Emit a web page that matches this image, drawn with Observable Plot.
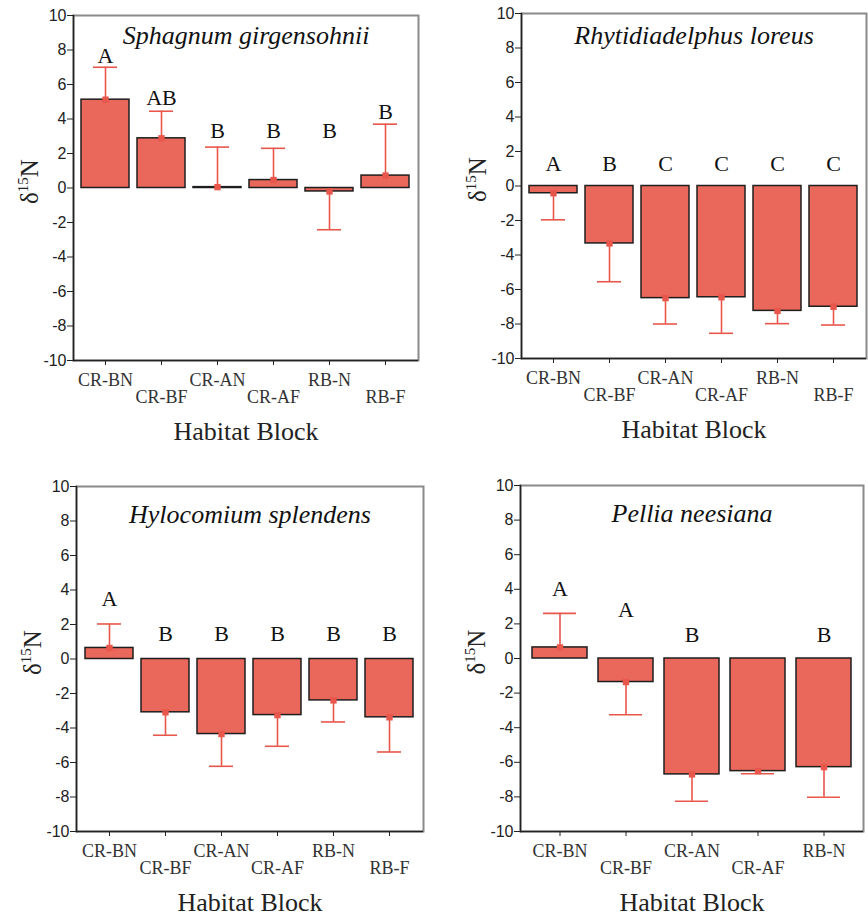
<!DOCTYPE html>
<html><head><meta charset="utf-8">
<script src="https://cdn.jsdelivr.net/npm/d3@7"></script>
<script src="https://cdn.jsdelivr.net/npm/@observablehq/plot@0.6"></script>
<style>
body{margin:0;background:#fff;}
#wrap{position:relative;width:868px;height:916px;background:#fff;}
.panel{position:absolute;width:434px;height:458px;}
</style></head><body><div id="wrap"></div>
<script>
// ---- data ----
const blocks6 = ["CR-BN","CR-BF","CR-AN","CR-AF","RB-N","RB-F"];
const blocks5 = ["CR-BN","CR-BF","CR-AN","CR-AF","RB-N"];
const yTicks = [10, 8, 6, 4, 2, 0, -2, -4, -6, -8, -10];

const sphagnumTitle = "Sphagnum girgensohnii";
const sphagnumMean = [5.12, 2.88, 0.05, 0.46, -0.2, 0.72];
const sphagnumErr  = [7.0, 4.45, 2.37, 2.3, -2.42, 3.7];
const sphagnumLetters = ["A", "AB", "B", "B", "B", "B"];
const sphagnumLetterY = [7.65, 5.2, 3.3, 3.3, 3.3, 4.4];

const rhytiTitle = "Rhytidiadelphus loreus";
const rhytiMean = [-0.42, -3.33, -6.5, -6.45, -7.24, -7.0];
const rhytiErr  = [-1.96, -5.55, -8.0, -8.54, -7.98, -8.06];
const rhytiLetters = ["A", "B", "C", "C", "C", "C"];
const rhytiLetterY = [1.3, 1.3, 1.3, 1.3, 1.3, 1.3];

const hyloTitle = "Hylocomium splendens";
const hyloMean = [0.64, -3.09, -4.35, -3.25, -2.4, -3.38];
const hyloErr  = [2.03, -4.42, -6.22, -5.06, -3.65, -5.39];
const hyloLetters = ["A", "B", "B", "B", "B", "B"];
const hyloLetterY = [3.48, 1.47, 1.47, 1.47, 1.47, 1.47];

const pelliaTitle = "Pellia neesiana";
const pelliaMean = [0.64, -1.36, -6.7, -6.51, -6.28];
const pelliaErr  = [2.61, -3.25, -8.25, -6.66, -8.02];
const pelliaLetters = ["A", "A", "B", "", "B"];
const pelliaLetterY = [4.02, 2.82, 1.37, 1.37, 1.37];

const xLabel = "Habitat Block";

// ---- styles ----
const SERIF = "'Liberation Serif', 'Times New Roman', serif";
const SANS = "'Liberation Sans', Arial, sans-serif";
const BAR = "#ea685b";
const ERR = "#e9564b";

function panel(o) {
  const {blocks, means, errs, letters, letterY, title, mt, mb, ml, mr, titleDy, padding, capInset, left, top} = o;
  const data = blocks.map((b, i) => ({block: b, mean: means[i], err: errs[i], letter: letters[i], ly: letterY[i]}));
  const even = blocks.filter((d, i) => i % 2 === 0);
  const odd = blocks.filter((d, i) => i % 2 === 1);
  const plot = Plot.plot({
    width: 434, height: 458,
    marginTop: mt, marginBottom: mb, marginLeft: ml, marginRight: mr,
    style: {background: "white", color: "#222", overflow: "visible"},
    x: {domain: blocks, padding, label: null, axis: null},
    y: {domain: [-10, 10], label: null, axis: null},
    marks: [
      Plot.frame({stroke: "#8a8a8a", strokeWidth: 2}),
      Plot.barY(data, {x: "block", y: "mean", fill: BAR, stroke: "#1e1e1e", strokeWidth: 1.5}),
      Plot.ruleX(data, {x: "block", y1: "mean", y2: "err", stroke: ERR, strokeWidth: 1.6}),
      Plot.tickY(data, {x: "block", y: "err", stroke: ERR, strokeWidth: 1.6, insetLeft: capInset, insetRight: capInset}),
      Plot.dot(data, {x: "block", y: "mean", symbol: "square", r: 3.6, fill: ERR, stroke: "none"}),
      Plot.text(data, {x: "block", y: "ly", text: "letter", fontSize: 22, fontFamily: SERIF, fill: "#111", lineAnchor: "middle"}),
      Plot.text([title], {frameAnchor: "top", dy: titleDy, lineAnchor: "middle", fontSize: 26, fontStyle: "italic", fontFamily: SERIF, fill: "#111"}),
      // y axis: tick marks + labels
      Plot.axisY(yTicks, {anchor: "left", tickSize: 6, tickFormat: () => "", stroke: "#222"}),
      Plot.text(yTicks, {y: d => d, text: d => String(d), frameAnchor: "left", textAnchor: "end", lineAnchor: "middle", dx: -7, fontSize: 16, fontFamily: SANS, fill: "#222"}),
      // x axis: tick marks + staggered labels
      Plot.axisX(blocks, {anchor: "bottom", tickSize: 5, tickFormat: () => "", stroke: "#222"}),
      Plot.text(even, {x: d => d, text: d => d, frameAnchor: "bottom", lineAnchor: "middle", dy: 20, fontSize: 18, fontFamily: SERIF, fill: "#333"}),
      Plot.text(odd, {x: d => d, text: d => d, frameAnchor: "bottom", lineAnchor: "middle", dy: 37, fontSize: 18, fontFamily: SERIF, fill: "#333"}),
      Plot.ruleY([-10], {stroke: "#222", strokeWidth: 1.5}),
      Plot.frame({anchor: "left", stroke: "#222", strokeWidth: 1.5}),
      Plot.text([xLabel], {frameAnchor: "bottom", dy: 71, lineAnchor: "middle", fontSize: 26, fontFamily: SERIF, fill: "#222"})
    ]
  });
  const svg = d3.select(plot);
  // y-axis label with superscript
  const cy = mt + (458 - mt - mb) / 2 - 6;
  const t = svg.append("text")
    .attr("transform", `translate(${ml - 35},${cy}) rotate(-90)`)
    .attr("text-anchor", "middle")
    .attr("font-family", SERIF)
    .attr("font-size", 25)
    .attr("fill", "#222");
  t.append("tspan").text("δ");
  t.append("tspan").attr("font-size", 15).attr("dy", -10).text("15");
  t.append("tspan").attr("dy", 10).text("N");
  const div = document.createElement("div");
  div.className = "panel";
  div.style.left = left + "px";
  div.style.top = top + "px";
  div.appendChild(plot);
  document.getElementById("wrap").appendChild(div);
}

panel({blocks: blocks6, means: sphagnumMean, errs: sphagnumErr, letters: sphagnumLetters, letterY: sphagnumLetterY,
  title: sphagnumTitle, mt: 15, mb: 98, ml: 73, mr: 16, titleDy: 20, padding: 0.14, capInset: 12, left: 0, top: 0});
panel({blocks: blocks6, means: rhytiMean, errs: rhytiErr, letters: rhytiLetters, letterY: rhytiLetterY,
  title: rhytiTitle, mt: 13, mb: 100, ml: 87, mr: 2, titleDy: 22, padding: 0.14, capInset: 12, left: 434, top: 0});
panel({blocks: blocks6, means: hyloMean, errs: hyloErr, letters: hyloLetters, letterY: hyloLetterY,
  title: hyloTitle, mt: 28, mb: 85, ml: 76, mr: 11, titleDy: 28, padding: 0.14, capInset: 12, left: 0, top: 458});
panel({blocks: blocks5, means: pelliaMean, errs: pelliaErr, letters: pelliaLetters, letterY: pelliaLetterY,
  title: pelliaTitle, mt: 27, mb: 85, ml: 86, mr: 5, titleDy: 28, padding: 0.165, capInset: 11, left: 434, top: 458});
</script>
</body></html>
